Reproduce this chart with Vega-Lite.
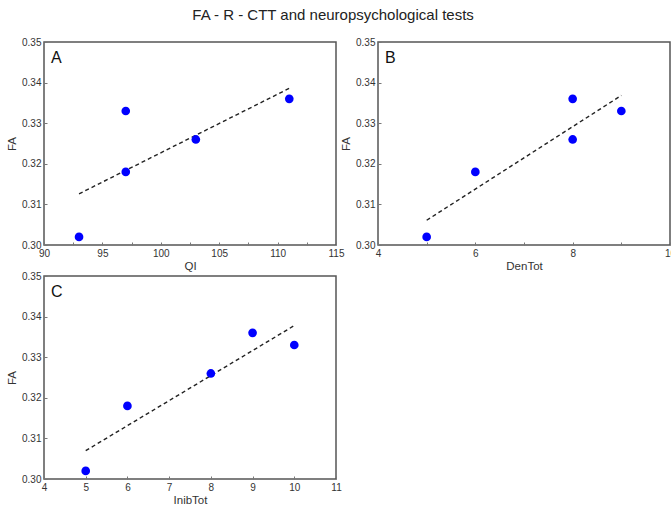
{
  "$schema": "https://vega.github.io/schema/vega-lite/v6.json",
  "background": "white",
  "padding": {"left": 5, "top": 8, "right": 0, "bottom": 5},
  "title": {"text": "FA - R - CTT and neuropsychological tests", "fontSize": 15, "fontWeight": "normal", "anchor": "middle", "frame": "bounds", "baseline": "alphabetic", "dx": -8, "color": "#222", "offset": 1},
  "datasets": {
    "a": [
      {"QI": 93, "FA": 0.302},
      {"QI": 97, "FA": 0.333},
      {"QI": 97, "FA": 0.318},
      {"QI": 103, "FA": 0.326},
      {"QI": 111, "FA": 0.336}
    ],
    "b": [
      {"DenTot": 5, "FA": 0.302},
      {"DenTot": 6, "FA": 0.318},
      {"DenTot": 8, "FA": 0.336},
      {"DenTot": 8, "FA": 0.326},
      {"DenTot": 9, "FA": 0.333}
    ],
    "c": [
      {"InibTot": 5, "FA": 0.302},
      {"InibTot": 6, "FA": 0.318},
      {"InibTot": 8, "FA": 0.326},
      {"InibTot": 9, "FA": 0.336},
      {"InibTot": 10, "FA": 0.333}
    ]
  },
  "columns": 2,
  "bounds": "flush",
  "spacing": {"row": 31, "column": 42},
  "concat": [
    {
      "width": 292, "height": 203,
      "data": {"name": "a"},
      "title": {"text": "A"},
      "encoding": {
        "x": {"field": "QI", "type": "quantitative", "title": "QI",
              "scale": {"domain": [90, 115], "nice": false, "zero": false},
              "axis": {"values": [90, 92.5, 95, 97.5, 100, 102.5, 105, 107.5, 110, 112.5, 115],
                       "labelExpr": "datum.value % 5 === 0 ? datum.label : ''"}},
        "y": {"field": "FA", "type": "quantitative", "title": "FA",
              "scale": {"domain": [0.30, 0.35], "nice": false, "zero": false},
              "axis": {"values": [0.30, 0.31, 0.32, 0.33, 0.34, 0.35], "format": ".2f"}}
      },
      "layer": [
        {"transform": [{"regression": "FA", "on": "QI"}],
         "mark": {"type": "line", "color": "#222", "strokeDash": [4, 3], "strokeWidth": 1.4}},
        {"mark": {"type": "circle", "color": "#0000ff", "size": 75, "opacity": 1}}
      ]
    },
    {
      "width": 292, "height": 203,
      "data": {"name": "b"},
      "title": {"text": "B"},
      "encoding": {
        "x": {"field": "DenTot", "type": "quantitative", "title": "DenTot",
              "scale": {"domain": [4, 10], "nice": false, "zero": false},
              "axis": {"values": [4, 5, 6, 7, 8, 9, 10],
                       "labelExpr": "datum.value % 2 === 0 ? datum.label : ''"}},
        "y": {"field": "FA", "type": "quantitative", "title": "FA",
              "scale": {"domain": [0.30, 0.35], "nice": false, "zero": false},
              "axis": {"values": [0.30, 0.31, 0.32, 0.33, 0.34, 0.35], "format": ".2f"}}
      },
      "layer": [
        {"transform": [{"regression": "FA", "on": "DenTot"}],
         "mark": {"type": "line", "color": "#222", "strokeDash": [4, 3], "strokeWidth": 1.4}},
        {"mark": {"type": "circle", "color": "#0000ff", "size": 75, "opacity": 1}}
      ]
    },
    {
      "width": 292, "height": 203,
      "data": {"name": "c"},
      "title": {"text": "C"},
      "encoding": {
        "x": {"field": "InibTot", "type": "quantitative", "title": "InibTot",
              "scale": {"domain": [4, 11], "nice": false, "zero": false},
              "axis": {"values": [4, 5, 6, 7, 8, 9, 10, 11]}},
        "y": {"field": "FA", "type": "quantitative", "title": "FA",
              "scale": {"domain": [0.30, 0.35], "nice": false, "zero": false},
              "axis": {"values": [0.30, 0.31, 0.32, 0.33, 0.34, 0.35], "format": ".2f"}}
      },
      "layer": [
        {"transform": [{"regression": "FA", "on": "InibTot"}],
         "mark": {"type": "line", "color": "#222", "strokeDash": [4, 3], "strokeWidth": 1.4}},
        {"mark": {"type": "circle", "color": "#0000ff", "size": 75, "opacity": 1}}
      ]
    }
  ],
  "config": {
    "font": "Liberation Sans",
    "view": {"stroke": "#555", "strokeWidth": 1.5},
    "axis": {
      "domain": false, "grid": false,
      "labelFlush": false, "labelOverlap": false, "labelBound": false,
      "tickSize": -3, "tickColor": "#777", "tickWidth": 1,
      "labelFontSize": 10, "labelColor": "#333", "labelPadding": 6,
      "titleFontSize": 11.5, "titleFontWeight": "normal", "titleColor": "#333"
    },
    "axisX": {"titlePadding": 2},
    "axisY": {"titlePadding": 4},
    "title": {"anchor": "start", "frame": "group", "orient": "top", "baseline": "alphabetic", "offset": -29, "dx": 7, "fontSize": 16, "fontWeight": "normal", "color": "#111"}
  }
}
